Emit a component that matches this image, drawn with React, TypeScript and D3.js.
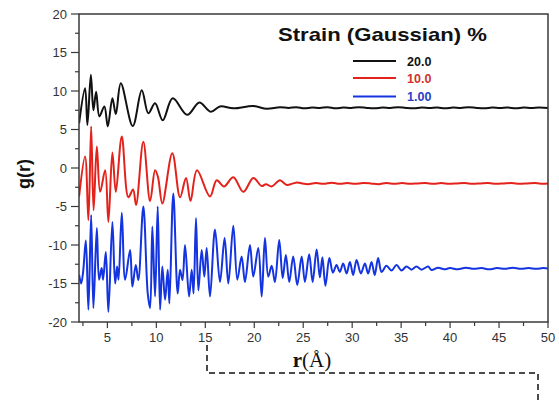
import React from "react";
import * as d3 from "d3";

const W = 559;
const H = 403;

// r (Å), g(r)
const strain20: [number, number][] = [
  [2.11, 5.8], [2.72, 10.35], [2.96, 5.6], [3.31, 12.1], [3.57, 7.5], [3.85, 9.9],
  [4.18, 6.7], [4.69, 8.0], [5.04, 5.4], [5.51, 9.05], [5.86, 7.0], [6.37, 11.0],
  [7.59, 5.45], [8.51, 10.1], [9.18, 7.1], [9.87, 8.4], [10.65, 6.2], [11.67, 9.05],
  [13.16, 6.9], [14.39, 8.5], [15.55, 7.3], [16.5, 8.0], [17.86, 7.75], [19.9, 8.05],
  [21.27, 7.7], [22.62, 7.9], [23.5, 7.8], [24.3, 7.9], [25.1, 7.75], [25.9, 7.85],
  [26.7, 7.8], [27.5, 7.9], [28.3, 7.75], [29.1, 7.85], [29.9, 7.8], [30.7, 7.9],
  [31.5, 7.8], [32.3, 7.75], [33.1, 7.85], [33.9, 7.8], [34.7, 7.9], [35.5, 7.8],
  [36.3, 7.75], [37.1, 7.85], [37.9, 7.8], [38.7, 7.85], [39.5, 7.75], [40.3, 7.85],
  [41.1, 7.8], [41.9, 7.9], [42.7, 7.8], [43.5, 7.75], [44.3, 7.85], [45.1, 7.8],
  [45.9, 7.85], [46.7, 7.75], [47.5, 7.85], [48.3, 7.8], [49.1, 7.85], [50, 7.8],
];

const strain10: [number, number][] = [
  [2.11, -3.7], [2.72, 1.5], [3.06, -6.8], [3.34, 5.4], [3.59, -5.5], [3.92, 2.8],
  [4.26, -3.1], [4.77, -0.3], [5.1, -7.0], [5.51, 2.0], [5.86, -3.1], [6.47, 4.1],
  [7.14, -3.8], [7.62, -2.8], [7.93, -4.8], [8.67, 3.4], [9.36, -4.3], [9.87, -0.3],
  [10.17, -1.2], [10.61, -4.6], [11.63, 1.9], [12.42, -3.8], [13.03, -1.3], [13.49, -4.3],
  [14.15, -0.3], [15.48, -3.7], [16.16, -1.6], [16.91, -2.4], [17.86, -1.2], [18.88, -3.1],
  [19.9, -1.3], [20.76, -2.35], [21.19, -2.1], [21.78, -2.4], [22.62, -1.6], [23.31, -2.2],
  [24.26, -1.9], [25.48, -2.1], [26.3, -1.95], [27.1, -2.05], [27.9, -1.9], [28.7, -2.05],
  [29.5, -1.95], [30.3, -2.05], [31.1, -1.95], [31.9, -2.0], [32.7, -2.1], [33.5, -1.95],
  [34.3, -2.05], [35.1, -1.95], [35.9, -2.05], [36.7, -2.0], [37.5, -1.95], [38.3, -2.05],
  [39.1, -1.95], [39.9, -2.05], [40.7, -2.0], [41.5, -1.95], [42.3, -2.05], [43.1, -2.0],
  [43.9, -1.95], [44.7, -2.05], [45.5, -2.0], [46.3, -1.95], [47.1, -2.05], [47.9, -2.0],
  [48.7, -1.95], [49.5, -2.05], [50, -2.0],
];

const strain1: [number, number][] = [
  [2.11, -13.9], [2.32, -15.0], [2.52, -13.5], [2.8, -9.4], [3.06, -18.4], [3.34, -6.1],
  [3.57, -18.2], [3.92, -7.8], [4.15, -14.5], [4.41, -13.0], [4.56, -14.5], [4.84, -10.9],
  [5.1, -18.7], [5.51, -7.0], [5.79, -15.0], [5.99, -12.8], [6.14, -14.5], [6.47, -5.8],
  [6.81, -14.5], [7.32, -10.65], [7.55, -15.4], [7.9, -12.6], [8.16, -14.55], [8.67, -5.0],
  [9.12, -16.3], [9.36, -18.2], [9.59, -7.6], [9.87, -16.7], [10.14, -5.0], [10.38, -18.4],
  [10.61, -12.8], [10.89, -17.1], [11.16, -13.2], [11.33, -17.6], [11.73, -3.3], [12.18, -16.3],
  [12.42, -13.2], [12.67, -14.55], [12.93, -10.0], [13.34, -16.7], [13.61, -13.2], [13.8, -16.3],
  [14.05, -6.5], [14.29, -15.9], [14.63, -10.65], [14.9, -14.1], [15.14, -10.4], [15.48, -16.7],
  [15.99, -8.0], [16.5, -14.8], [16.97, -9.1], [17.35, -15.0], [17.86, -7.5], [18.27, -14.5],
  [18.71, -11.5], [19.05, -14.8], [19.56, -10.0], [19.9, -14.1], [20.41, -10.4], [20.76, -16.7],
  [21.09, -9.1], [21.43, -14.1], [21.78, -12.7], [22.11, -14.8], [22.55, -9.35], [22.9, -14.3],
  [23.23, -11.3], [23.57, -14.8], [23.98, -11.5], [24.39, -15.2], [24.84, -11.5], [25.17, -14.8],
  [25.61, -11.2], [25.96, -14.8], [26.37, -10.6], [26.7, -14.2], [26.96, -11.6], [27.27, -15.3],
  [27.67, -11.7], [28.03, -13.6], [28.4, -12.6], [28.74, -13.5], [29.08, -12.4], [29.43, -13.7],
  [29.77, -12.2], [30.1, -13.9], [30.45, -11.95], [30.89, -13.7], [31.3, -12.4], [31.63, -13.7],
  [31.98, -12.2], [32.3, -13.9], [32.65, -11.7], [33.0, -13.5], [33.5, -12.7], [34.02, -13.3],
  [34.53, -12.6], [35.04, -13.3], [35.55, -12.8], [36.06, -13.2], [36.57, -12.8], [37.08, -13.2],
  [37.76, -12.8], [38.1, -13.25], [38.78, -12.95], [39.4, -13.15], [40.0, -13.0], [40.8, -13.15],
  [41.6, -12.95], [42.4, -13.1], [43.2, -13.0], [44.0, -13.15], [44.8, -13.0], [45.6, -13.1],
  [46.4, -12.95], [47.2, -13.1], [48.0, -13.0], [48.8, -13.1], [49.5, -13.0], [50, -13.05],
];

const seriesLabels = ["20.0", "10.0", "1.00"];
const seriesColors = ["#111111", "#e3231b", "#1434e0"];
const labelColors = ["#111111", "#d0312d", "#2a3ec4"];
const xTicks = [5, 10, 15, 20, 25, 30, 35, 40, 45, 50];
const xMinor = [2.5, 7.5, 12.5, 17.5, 22.5, 27.5, 32.5, 37.5, 42.5, 47.5];
const yTicks = [-20, -15, -10, -5, 0, 5, 10, 15, 20];
const yMinor = [-17.5, -12.5, -7.5, -2.5, 2.5, 7.5, 12.5, 17.5];

export default function App() {
  const left = 79, right = 548, top = 14, bottom = 322;
  const x = d3.scaleLinear().domain([2.1, 50]).range([left, right]);
  const y = d3.scaleLinear().domain([-20, 20]).range([bottom, top]);
  const line = d3
    .line<[number, number]>()
    .x((d) => x(d[0]))
    .y((d) => y(d[1]))
    .curve(d3.curveCatmullRom.alpha(0.5));
  const series = [strain20, strain10, strain1];
  const axisColor = "#3a3a3a";
  const tickFont = "Arial, 'Liberation Sans', sans-serif";

  return (
    <svg
      width={W}
      height={H}
      style={{ position: "absolute", left: 0, top: 0, background: "#fff" }}
    >
      <defs>
        <clipPath id="plot">
          <rect x={left} y={top - 2} width={right - left} height={bottom - top + 4} />
        </clipPath>
      </defs>
      <g clipPath="url(#plot)">
        {series.map((s, i) => (
          <path
            key={i}
            d={line(s) || ""}
            fill="none"
            stroke={seriesColors[i]}
            strokeWidth={2}
            strokeLinejoin="round"
          />
        ))}
      </g>
      {/* frame */}
      <rect
        x={left}
        y={top}
        width={right - left}
        height={bottom - top}
        fill="none"
        stroke={axisColor}
        strokeWidth={1.5}
      />
      {/* x ticks */}
      {xTicks.map((t) => (
        <g key={"x" + t}>
          <line x1={x(t)} x2={x(t)} y1={bottom} y2={bottom + 6} stroke={axisColor} strokeWidth={1.2} />
          <text
            x={x(t)}
            y={bottom + 20}
            textAnchor="middle"
            fontFamily={tickFont}
            fontSize={13}
            fill="#333"
          >
            {t}
          </text>
        </g>
      ))}
      {xMinor.map((t) => (
        <line key={"xm" + t} x1={x(t)} x2={x(t)} y1={bottom} y2={bottom + 4} stroke={axisColor} strokeWidth={1.2} />
      ))}
      {/* y ticks */}
      {yTicks.map((t) => (
        <g key={"y" + t}>
          <line x1={left - 8} x2={left} y1={y(t)} y2={y(t)} stroke={axisColor} strokeWidth={1.2} />
          <text
            x={left - 12}
            y={y(t)}
            dy="0.35em"
            textAnchor="end"
            fontFamily={tickFont}
            fontSize={13}
            fill="#333"
          >
            {t}
          </text>
        </g>
      ))}
      {yMinor.map((t) => (
        <line key={"ym" + t} x1={left - 4} x2={left} y1={y(t)} y2={y(t)} stroke={axisColor} strokeWidth={1.2} />
      ))}
      {/* axis titles */}
      <text
        transform="translate(30,174) rotate(-90)"
        textAnchor="middle"
        fontFamily={tickFont}
        fontWeight="bold"
        fontSize={18}
        fill="#111"
      >
        g(r)
      </text>
      <text
        x={312}
        y={367}
        textAnchor="middle"
        fontFamily="'Liberation Serif', 'Times New Roman', serif"
        fontSize={21}
        fill="#111"
      >
        <tspan fontWeight="bold">r</tspan>
        <tspan>(Å)</tspan>
      </text>
      {/* dashed bracket */}
      <path
        d={`M207,345 V373 H538 V${H}`}
        fill="none"
        stroke="#111"
        strokeWidth={1.5}
        strokeDasharray="6,4"
      />
      {/* legend */}
      <text
        x={278}
        y={41}
        fontFamily={tickFont}
        fontWeight="bold"
        fontSize={19}
        textLength={209}
        lengthAdjust="spacingAndGlyphs"
        fill="#111"
      >
        Strain (Gaussian) %
      </text>
      {seriesLabels.map((lab, i) => {
        const ly = [61, 78, 96.5][i];
        return (
          <g key={lab}>
            <line x1={353} x2={396} y1={ly} y2={ly} stroke={seriesColors[i]} strokeWidth={2} />
            <text
              x={407}
              y={ly}
              dy="0.36em"
              fontFamily={tickFont}
              fontWeight="bold"
              fontSize={12.5}
              fill={labelColors[i]}
            >
              {lab}
            </text>
          </g>
        );
      })}
    </svg>
  );
}
